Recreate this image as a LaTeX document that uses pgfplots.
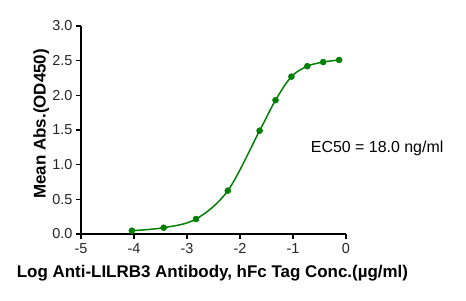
\documentclass[border=0pt]{standalone}
\usepackage{pgfplots}
\pgfplotsset{compat=1.18}
\usepackage{fontspec}
\setmainfont{Liberation Sans}
\definecolor{cgreen}{RGB}{0,128,0}
\begin{document}
\begin{tikzpicture}[x=1bp,y=1bp]
\useasboundingbox (-81,-66) rectangle (385,234);
\begin{axis}[
  at={(0,0)}, anchor=south west,
  scale only axis, width=265bp, height=208bp,
  xmin=-5, xmax=0, ymin=0, ymax=3,
  axis lines*=left,
  axis line style={line width=1.5pt, -},
  xtick={-5,-4,-3,-2,-1,0},
  ytick={0,0.5,1,1.5,2,2.5,3},
  tick style={line width=1.3pt, black},
  tick align=outside, major tick length=4.5bp,
  /pgf/number format/assume math mode=true,
  ticklabel style={font=\fontsize{14.5}{16}\selectfont, text=black!85},
  xticklabel style={yshift=-1.5bp},
  yticklabel style={xshift=-0.5bp, /pgf/number format/.cd, fixed, fixed zerofill, precision=1},
  xlabel={\textbf{Log Anti-LILRB3 Antibody, hFc Tag Conc.(µg/ml)}},
  ylabel={\textbf{Mean Abs.(OD450)}},
  label style={font=\fontsize{17}{19}\selectfont},
  xlabel style={at={(axis description cs:0.496,-0.207)}, anchor=base},
  ylabel style={at={(axis description cs:-0.150,0.53)}, anchor=center},
  clip=false,
]
\addplot[cgreen, line width=1.5pt, smooth, tension=0.55, mark=*, mark size=3bp, mark options={fill=cgreen, draw=cgreen, line width=0.5pt}] coordinates {
(-4.04,0.048) (-3.44,0.091) (-2.83,0.216) (-2.23,0.625) (-1.63,1.49)
(-1.33,1.93) (-1.03,2.27) (-0.73,2.42) (-0.43,2.48) (-0.13,2.51)
};
\node[anchor=base west, inner sep=0pt, font=\fontsize{16}{18}\selectfont] at (axis cs:-0.666,1.173) {EC50 = 18.0 ng/ml};
\end{axis}
\end{tikzpicture}
\end{document}
